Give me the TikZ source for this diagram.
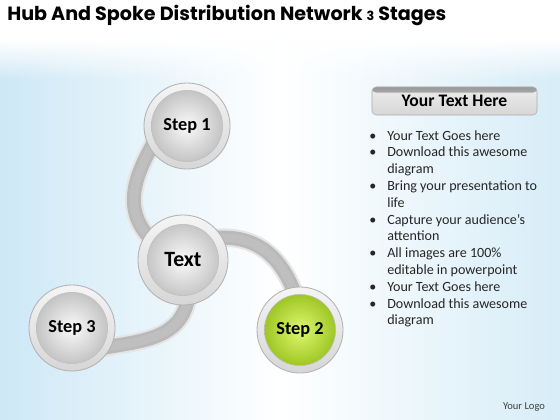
\documentclass[tikz,border=0pt]{standalone}
\usepackage{fontspec}
\setmainfont{Carlito}
\newfontfamily\titlefont{Poppins}
\usetikzlibrary{backgrounds,fadings}
\definecolor{bgblue}{RGB}{205,232,246}
\definecolor{limelt}{RGB}{222,248,110}
\definecolor{limedk}{RGB}{145,188,22}
\tikzfading[name=fadedown,top color=transparent!0,bottom color=transparent!100]
\newcommand\bul{\makebox[12.8pt][l]{\textbullet}}
\newcommand\ind{\hspace*{12.8pt}}

\begin{document}
\begin{tikzpicture}
[x=0.025cm,y=0.025cm
,orb/.style 2 args={circle,minimum size=2.15cm,inner sep=0pt,draw=gray!60,line width=.6pt
  ,top color=gray!8,bottom color=gray!32,font=\bfseries\fontsize{13}{13}\selectfont
  ,path picture={\shade[inner color=#1,outer color=#2] (path picture bounding box.center) circle (0.89cm);
    \draw[gray!50,line width=.4pt] (path picture bounding box.center) circle (0.89cm);}}
,greyorb/.style={orb={gray!4}{gray!55}}
,greenorb/.style={orb={limelt}{limedk}}
,tube/.style={draw=gray!55,line width=10pt,shorten <=-6pt,shorten >=-6pt
  ,preaction={draw=gray!20,line width=13pt}
  ,postaction={draw=gray!50,line width=6pt}}
,hdr/.style={rounded corners=3pt,minimum width=4.125cm,minimum height=0.7cm,draw=gray!65
  ,top color=gray!14,bottom color=gray!32,font=\bfseries\fontsize{12.5}{12.5}\selectfont
  ,path picture={\shade[top color=gray!80,bottom color=gray!20] (path picture bounding box.north west)
    rectangle ([yshift=-4pt]path picture bounding box.north east);}}
,list/.style={align=left,inner sep=0pt,text=black!85,font=\fontsize{10}{11.95}\selectfont}
]
\useasboundingbox (0,0) rectangle (560,-420);
\begin{scope}[on background layer]
\shade[left color=bgblue,right color=bgblue!80,middle color=white] (0,0) rectangle (560,-420);
\fill[white] (0,0) rectangle (560,-40);
\fill[white,path fading=fadedown] (0,-40) rectangle (560,-80);
\end{scope}

\node[anchor=base west,inner sep=0pt,font=\titlefont\bfseries\fontsize{13.6}{13.6}\selectfont] (title) at (7,-21)
  {Hub And Spoke Distribution Network {\fontsize{9}{9}\selectfont 3} Stages};

\node[greyorb] (s1) at (187,-126) {Step 1};
\node[greyorb,minimum size=2.25cm,font=\bfseries\fontsize{15.5}{15.5}\selectfont] (hub) at (183,-260) {Text};
\node[greenorb] (s2) at (300,-330) {Step 2};
\node[greyorb] (s3) at (72,-328) {Step 3};

\begin{scope}[on background layer]
\draw[tube] (s1.212) to[out=240,in=135] (hub.145);
\draw[tube] (hub.30) to[out=5,in=110] (s2.100);
\draw[tube] (hub.275) to[out=260,in=10] (s3.-25);
\end{scope}

\node[hdr] (head) at (454.5,-101) {Your Text Here};
\node[list,anchor=north west] (bullets) at (369,-130)
  {\bul Your Text Goes here\\
   \bul Download this awesome\\
   \ind diagram\\
   \bul Bring your presentation to\\
   \ind life\\
   \bul Capture your audience’s\\
   \ind attention\\
   \bul All images are 100\%\\
   \ind editable in powerpoint\\
   \bul Your Text Goes here\\
   \bul Download this awesome\\
   \ind diagram};
\node[text=black!75,font=\fontsize{7.5}{7.5}\selectfont] (logo) at (524,-407) {Your Logo};
\end{tikzpicture}
\end{document}
